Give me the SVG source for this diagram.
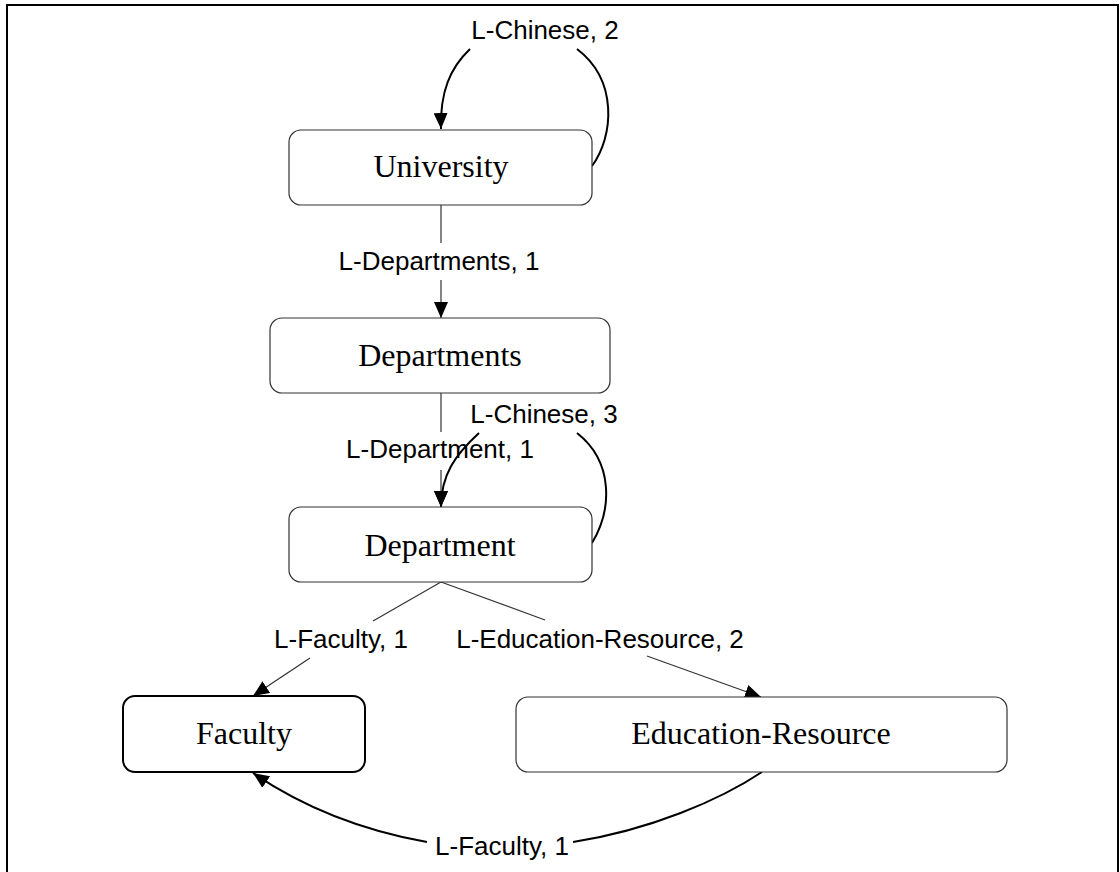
<svg xmlns="http://www.w3.org/2000/svg" width="1120" height="872" viewBox="0 0 1120 872">
<style>
.node{fill:#fff;stroke:#333;stroke-width:1.2}
.nodeb{fill:#fff;stroke:#000;stroke-width:2}
.nt{font-family:"Liberation Serif","Times New Roman",serif;font-size:32px;fill:#000;text-anchor:middle}
.lt{font-family:"Liberation Sans",Arial,sans-serif;font-size:26px;fill:#000;text-anchor:middle}
.thin{fill:none;stroke:#333;stroke-width:1.2}
.thick{fill:none;stroke:#000;stroke-width:2}
</style>
<defs>
<marker id="ah" markerUnits="userSpaceOnUse" markerWidth="16" markerHeight="14" refX="16" refY="7" orient="auto">
<path d="M0,0 L16,7 L0,14 z" fill="#000"/>
</marker>
</defs>
<rect x="0" y="0" width="1120" height="872" fill="#fff"/>
<path d="M7,872 L7,5 L1118,5 L1118,872" fill="none" stroke="#000" stroke-width="2"/>
<g id="connectors">
<path class="thick" d="M592,166 C614,136 618,80 577,49"/>
<path class="thick" d="M470,49 C450,68 440,92 441,129" marker-end="url(#ah)"/>
<path class="thin" d="M441,205 L441,243"/>
<path class="thin" d="M441,280 L441,318" marker-end="url(#ah)"/>
<path class="thin" d="M441,393 L441,432"/>
<path class="thin" d="M441,470 L441,507" marker-end="url(#ah)"/>
<path class="thick" d="M592,543 C612,510 614,462 577,433"/>
<path class="thick" d="M479,433 C455,455 441,475 441,507" marker-end="url(#ah)"/>
<path class="thin" d="M441,582 L373,621"/>
<path class="thin" d="M310,658 L253,696" marker-end="url(#ah)"/>
<path class="thin" d="M441,582 L545,620"/>
<path class="thin" d="M647,656 L761,697" marker-end="url(#ah)"/>
<path class="thick" d="M762,772 C720,800 650,830 573,842"/>
<path class="thick" d="M427,842 C360,830 300,805 253,773" marker-end="url(#ah)"/>
<text class="lt" x="545" y="39">L-Chinese, 2</text>
<text class="lt" x="439" y="270">L-Departments, 1</text>
<text class="lt" x="544" y="423">L-Chinese, 3</text>
<text class="lt" x="440" y="458">L-Department, 1</text>
<text class="lt" x="341" y="648">L-Faculty, 1</text>
<text class="lt" x="600" y="648">L-Education-Resource, 2</text>
<text class="lt" x="502" y="855">L-Faculty, 1</text>
</g>
<g id="university">
<rect class="node" x="289" y="130" width="303" height="75" rx="12"/>
<text class="nt" x="441" y="177">University</text>
</g>
<g id="departments">
<rect class="node" x="270" y="318" width="340" height="75" rx="12"/>
<text class="nt" x="440" y="366">Departments</text>
</g>
<g id="department">
<rect class="node" x="289" y="507" width="303" height="75" rx="12"/>
<text class="nt" x="440" y="556">Department</text>
</g>
<g id="faculty">
<rect class="nodeb" x="123" y="696" width="242" height="76" rx="12"/>
<text class="nt" x="244" y="744">Faculty</text>
</g>
<g id="education-resource">
<rect class="node" x="516" y="697" width="491" height="75" rx="12"/>
<text class="nt" x="761" y="744">Education-Resource</text>
</g>
</svg>
